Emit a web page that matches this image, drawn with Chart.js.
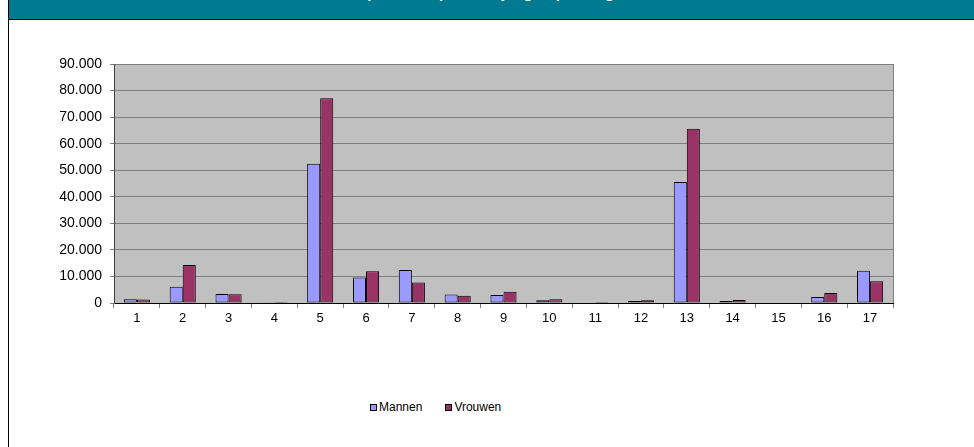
<!DOCTYPE html>
<html>
<head>
<meta charset="utf-8">
<script src="https://cdn.jsdelivr.net/npm/chart.js@4/dist/chart.umd.min.js"></script>
<style>
    body { margin: 0; background: #fff; width: 974px; height: 447px; overflow: hidden; position: relative; font-family: "Liberation Sans", Arial, sans-serif; }
    #frame { position: absolute; left: 8px; top: 0; width: 1px; height: 447px; background: #000; }
    #header { position: absolute; left: 9px; top: 0; width: 965px; height: 19px; background: #007a90; border-bottom: 1px solid #000; overflow: hidden; }
    #header span { position: absolute; left: 0; width: 100%; top: -15px; text-align: center; color: #fff; font-size: 15px; font-weight: bold; line-height: 15px; }
    #chartBox { position: absolute; left: 0; top: 20px; }
    #legend { position: absolute; left: 370px; top: 400px; display: flex; font-size: 12px; color: #000; }
    .item { display: flex; align-items: center; margin-right: 23px; }
    .swatch { width: 5px; height: 5px; border: 1px solid #000; margin-right: 2px; }
</style>
</head>
<body>
<div id="frame"></div>
<div id="header"><span>Aantal personen per leeftijdsgroep naar geslacht</span></div>
<div id="chartBox"><canvas id="barChart" width="974" height="312"></canvas></div>
<div id="legend"></div>

<script>
// --- Data ---

const categories = ['1', '2', '3', '4', '5', '6', '7', '8', '9', '10', '11', '12', '13', '14', '15', '16', '17'];
const seriesNames = ['Mannen', 'Vrouwen'];
const mannen = [1400, 6100, 3400, 300, 52400, 9600, 12400, 3200, 3000, 1000, 150, 800, 45600, 800, 150, 2300, 12100];
const vrouwen = [1300, 14300, 3300, 400, 77100, 12000, 7700, 2700, 4200, 1400, 400, 1000, 65600, 1100, 150, 3800, 8200];
const seriesColors = ['#9999ff', '#993366'];

// Dutch style thousands separator: 90000 -> 90.000
function formatNL(v) {
    return String(v).replace(/\B(?=(\d{3})+(?!\d))/g, '.');
}

// --- Plot area background and right edge ---

const plotBackground = {
    id: 'plotBackground',
    beforeDraw(chart) {
        const a = chart.chartArea;
        const ctx = chart.ctx;
        ctx.save();
        ctx.fillStyle = '#c0c0c0';
        ctx.fillRect(a.left, a.top, a.right - a.left, a.bottom - a.top);
        ctx.restore();
    },
    afterDatasetsDraw(chart) {
        const a = chart.chartArea;
        const ctx = chart.ctx;
        ctx.save();
        ctx.strokeStyle = '#808080';
        ctx.lineWidth = 1;
        ctx.beginPath();
        ctx.moveTo(Math.round(a.right) + 0.5, a.top);
        ctx.lineTo(Math.round(a.right) + 0.5, a.bottom);
        ctx.stroke();
        ctx.restore();
    }
};

const xFont = { family: '"Liberation Sans", Arial, sans-serif', size: 13 };
const yFont = { family: '"Liberation Sans", Arial, sans-serif', size: 14 };

const barChart = new Chart(document.getElementById('barChart').getContext('2d'), {
    type: 'bar',
    data: {
        labels: categories,
        datasets: [mannen, vrouwen].map((values, i) => ({
            label: seriesNames[i],
            data: values,
            backgroundColor: seriesColors[i],
            borderColor: '#000',
            borderWidth: 1,
            borderSkipped: false,
            categoryPercentage: 0.57,
            barPercentage: 1.0
        }))
    },
    options: {
        responsive: false,
        animation: false,
        layout: { padding: { top: 44, right: 81, bottom: 0, left: 0 } },
        plugins: {
            legend: { display: false },
            tooltip: { enabled: false }
        },
        scales: {
            x: {
                afterFit: (scale) => { scale.height = 29; },
                grid: {
                    display: true,
                    drawOnChartArea: false,
                    offset: true,
                    tickLength: 5,
                    color: '#808080'
                },
                border: { color: '#000', width: 1 },
                ticks: { color: '#000', font: xFont, padding: 3, maxRotation: 0, autoSkip: false }
            },
            y: {
                min: 0,
                max: 90000,
                afterFit: (scale) => { scale.width = 114; },
                grid: { color: '#808080', tickLength: 4, tickColor: '#808080' },
                border: { color: '#404040', width: 1 },
                ticks: {
                    stepSize: 10000,
                    color: '#000',
                    font: yFont,
                    padding: 8,
                    callback: (v) => formatNL(v)
                }
            }
        }
    },
    plugins: [plotBackground]
});

// --- HTML legend built from the datasets ---

const legendEl = document.getElementById('legend');
barChart.data.datasets.forEach(ds => {
    const item = document.createElement('div');
    item.className = 'item';
    const sw = document.createElement('span');
    sw.className = 'swatch';
    sw.style.background = ds.backgroundColor;
    const txt = document.createElement('span');
    txt.textContent = ds.label;
    item.appendChild(sw);
    item.appendChild(txt);
    legendEl.appendChild(item);
});
</script>
</body>
</html>
